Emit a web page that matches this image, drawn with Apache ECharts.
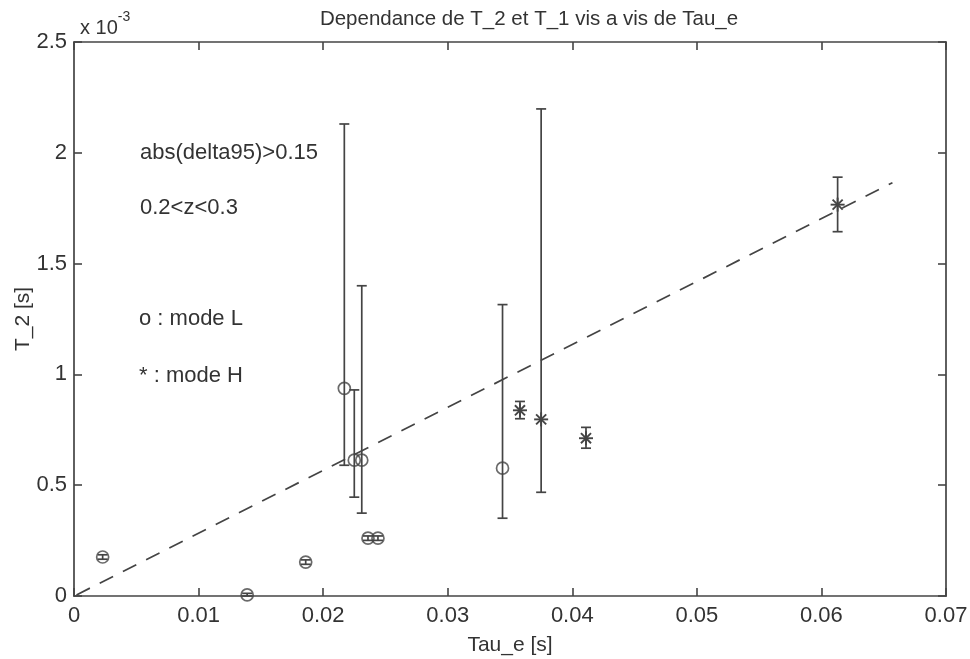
<!DOCTYPE html>
<html>
<head>
<meta charset="utf-8">
<script src="https://cdn.jsdelivr.net/npm/echarts@6/dist/echarts.min.js"></script>
<style>
  html, body { margin: 0; padding: 0; background: #fff; }
  #main { width: 970px; height: 659px; }
</style>
</head>
<body>
<div id="main"></div>
<script>
// mode L (circles): Tau_e [s], T_2 [x1e-3 s], error bar low / high
var tauL = [0.0023, 0.0139, 0.0186, 0.0217, 0.0225, 0.0231, 0.0236, 0.0244, 0.0344]
var t2L = [0.176, 0.005, 0.153, 0.937, 0.613, 0.613, 0.261, 0.261, 0.577]
var lowL = [0.166, 0.000, 0.143, 0.59, 0.446, 0.374, 0.251, 0.251, 0.351]
var highL = [0.186, 0.012, 0.163, 2.13, 0.93, 1.40, 0.271, 0.271, 1.315]

// mode H (stars)
var tauH = [0.0358, 0.0375, 0.0411, 0.0613]
var t2H = [0.838, 0.797, 0.712, 1.766]
var lowH = [0.80, 0.468, 0.667, 1.644]
var highH = [0.878, 2.198, 0.761, 1.89]

// dashed fit line
var fitX = [0.0002, 0.0657]
var fitY = [0.005, 1.865]

var xTicks = [0, 0.01, 0.02, 0.03, 0.04, 0.05, 0.06, 0.07]
var yTicks = [0, 0.5, 1, 1.5, 2, 2.5]

var ink = '#444'
var txt = '#333'
var font = 'Liberation Sans, Arial, sans-serif'

function bars (tau, low, high) {
  return tau.map(function (t, i) { return [t, low[i], high[i]] })
}

// 误差棒
function errorBar (params, api) {
  var x = api.value(0)
  var lo = api.coord([x, api.value(1)])
  var hi = api.coord([x, api.value(2)])
  var cap = 5
  var st = { stroke: ink, lineWidth: 1.7 }
  return {
    type: 'group',
    children: [
      { type: 'line', shape: { x1: lo[0], y1: lo[1], x2: hi[0], y2: hi[1] }, style: st },
      { type: 'line', shape: { x1: lo[0] - cap, y1: lo[1], x2: lo[0] + cap, y2: lo[1] }, style: st },
      { type: 'line', shape: { x1: hi[0] - cap, y1: hi[1], x2: hi[0] + cap, y2: hi[1] }, style: st }
    ]
  }
}

// 星号标记
function star (params, api) {
  var p = api.coord([api.value(0), api.value(1)])
  var r = 7
  var d = r * 0.72
  var st = { stroke: ink, lineWidth: 1.9 }
  return {
    type: 'group',
    children: [
      { type: 'line', shape: { x1: p[0] - r, y1: p[1], x2: p[0] + r, y2: p[1] }, style: st },
      { type: 'line', shape: { x1: p[0], y1: p[1] - r, x2: p[0], y2: p[1] + r }, style: st },
      { type: 'line', shape: { x1: p[0] - d, y1: p[1] - d, x2: p[0] + d, y2: p[1] + d }, style: st },
      { type: 'line', shape: { x1: p[0] - d, y1: p[1] + d, x2: p[0] + d, y2: p[1] - d }, style: st }
    ]
  }
}

var chart = echarts.init(document.getElementById('main'))

function axisBase () {
  return {
    axisLine: { show: true, onZero: false, lineStyle: { color: ink, width: 1.7 } },
    axisTick: { show: true, inside: true, length: 8, lineStyle: { color: ink, width: 1.6 } },
    splitLine: { show: false }
  }
}

chart.setOption({
  backgroundColor: '#fff',
  animation: false,
  title: {
    text: 'Dependance de T_2 et T_1 vis a vis de Tau_e',
    left: 524,
    top: 4,
    textAlign: 'center',
    textStyle: { fontFamily: font, fontSize: 20.5, fontWeight: 'normal', color: txt }
  },
  grid: { left: 74, right: 24, top: 42, bottom: 63, containLabel: false, outerBoundsMode: 'none' },
  xAxis: [
    Object.assign(axisBase(), {
      type: 'value', min: 0, max: 0.07, interval: 0.01, position: 'bottom',
      name: 'Tau_e [s]', nameLocation: 'middle', nameGap: 39, nameMoveOverlap: false,
      nameTextStyle: { fontFamily: font, fontSize: 21, color: txt },
      axisLabel: {
        fontFamily: font, fontSize: 22, color: txt, margin: 9,
        formatter: function (v) {
          var t = xTicks.find(function (k) { return Math.abs(k - v) < 1e-9 })
          return t === 0 ? '0' : t.toFixed(2)
        }
      }
    }),
    Object.assign(axisBase(), {
      type: 'value', min: 0, max: 0.07, interval: 0.01, position: 'top',
      axisLabel: { show: false }
    })
  ],
  yAxis: [
    Object.assign(axisBase(), {
      type: 'value', min: 0, max: 2.5, interval: 0.5, position: 'left',
      name: 'T_2 [s]', nameLocation: 'middle', nameGap: 40, nameRotate: 90, nameMoveOverlap: false,
      nameTextStyle: { fontFamily: font, fontSize: 21, color: txt },
      axisLabel: {
        fontFamily: font, fontSize: 22, color: txt, margin: 7,
        formatter: function (v) {
          var t = yTicks.find(function (k) { return Math.abs(k - v) < 1e-9 })
          return String(t)
        }
      }
    }),
    Object.assign(axisBase(), {
      type: 'value', min: 0, max: 2.5, interval: 0.5, position: 'right',
      axisLabel: { show: false }
    })
  ],
  graphic: [
    {
      type: 'text', left: 80, top: 10,
      style: {
        text: '{a|x 10}{b|-3}',
        rich: {
          a: { fontFamily: font, fontSize: 20, fill: txt, padding: [8, 0, 0, 0] },
          b: { fontFamily: font, fontSize: 14, fill: txt, verticalAlign: 'top' }
        }
      }
    },
    { type: 'text', left: 140, top: 142, style: { text: 'abs(delta95)>0.15', font: '22px ' + font, fill: txt } },
    { type: 'text', left: 140, top: 197, style: { text: '0.2<z<0.3', font: '22px ' + font, fill: txt } },
    { type: 'text', left: 139, top: 308, style: { text: 'o : mode L', font: '22px ' + font, fill: txt } },
    { type: 'text', left: 139, top: 365, style: { text: '* : mode H', font: '22px ' + font, fill: txt } }
  ],
  series: [
    {
      name: 'fit',
      type: 'line',
      data: fitX.map(function (x, i) { return [x, fitY[i]] }),
      symbol: 'none',
      lineStyle: { color: ink, width: 1.7, type: [15, 11] },
      silent: true
    },
    {
      name: 'errL',
      type: 'custom',
      renderItem: errorBar,
      data: bars(tauL, lowL, highL),
      clip: false
    },
    {
      name: 'errH',
      type: 'custom',
      renderItem: errorBar,
      data: bars(tauH, lowH, highH),
      clip: false
    },
    {
      name: 'mode L',
      type: 'scatter',
      data: tauL.map(function (t, i) { return [t, t2L[i]] }),
      symbol: 'circle',
      symbolSize: 12,
      itemStyle: { color: 'rgba(0,0,0,0)', borderColor: ink, borderWidth: 1.7 },
      clip: false
    },
    {
      name: 'mode H',
      type: 'custom',
      renderItem: star,
      data: tauH.map(function (t, i) { return [t, t2H[i]] }),
      clip: false
    }
  ]
})
</script>
</body>
</html>
